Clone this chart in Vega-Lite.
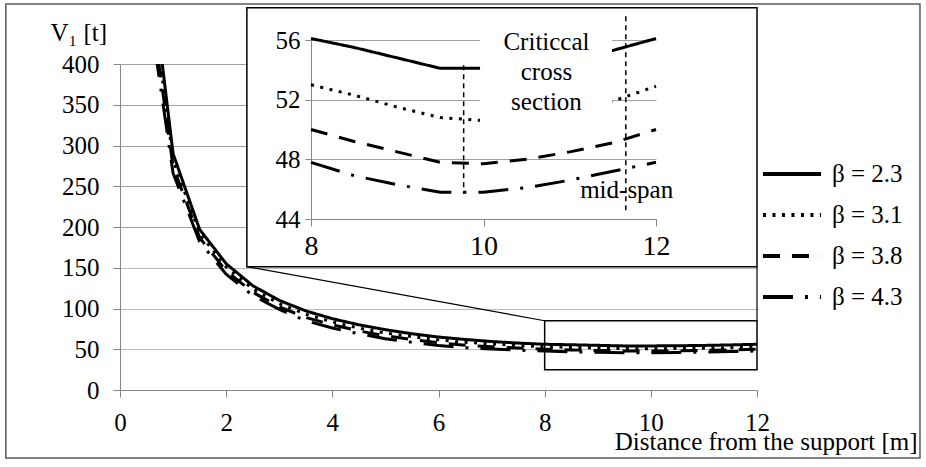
{
  "$schema": "https://vega.github.io/schema/vega-lite/v6.json",
  "width": 637,
  "height": 326,
  "autosize": {"type": "none"},
  "padding": {"left": 120, "top": 64, "right": 169, "bottom": 77},
  "background": "white",
  "config": {
    "font": "Liberation Serif, Times New Roman, DejaVu Serif, serif",
    "view": {"stroke": null},
    "text": {"font": "Liberation Serif, Times New Roman, DejaVu Serif, serif"},
    "axis": {
      "labelFont": "Liberation Serif, Times New Roman, DejaVu Serif, serif",
      "titleFont": "Liberation Serif, Times New Roman, DejaVu Serif, serif",
      "labelColor": "black",
      "titleColor": "black",
      "labelFontSize": 25,
      "titleFontSize": 25,
      "titleFontWeight": "normal",
      "domainColor": "#868686",
      "tickColor": "#868686",
      "gridColor": "#a0a0a0",
      "labelFlush": false,
      "labelOverlap": false
    }
  },
  "datasets": {
    "series": [
      {"x": 0.5, "beta": "β = 2.3", "y": 560}, {"x": 1, "beta": "β = 2.3", "y": 290}, {"x": 1.5, "beta": "β = 2.3", "y": 197}, {"x": 2, "beta": "β = 2.3", "y": 155},
      {"x": 2.5, "beta": "β = 2.3", "y": 128}, {"x": 3, "beta": "β = 2.3", "y": 110}, {"x": 3.5, "beta": "β = 2.3", "y": 97}, {"x": 4, "beta": "β = 2.3", "y": 87.5},
      {"x": 4.5, "beta": "β = 2.3", "y": 80}, {"x": 5, "beta": "β = 2.3", "y": 74}, {"x": 5.5, "beta": "β = 2.3", "y": 69}, {"x": 6, "beta": "β = 2.3", "y": 65},
      {"x": 6.5, "beta": "β = 2.3", "y": 62}, {"x": 7, "beta": "β = 2.3", "y": 59.5}, {"x": 7.5, "beta": "β = 2.3", "y": 57.6}, {"x": 8, "beta": "β = 2.3", "y": 56.1},
      {"x": 8.5, "beta": "β = 2.3", "y": 55.5}, {"x": 9, "beta": "β = 2.3", "y": 54.8}, {"x": 9.5, "beta": "β = 2.3", "y": 54.1}, {"x": 10, "beta": "β = 2.3", "y": 54.1},
      {"x": 10.5, "beta": "β = 2.3", "y": 54.3}, {"x": 11, "beta": "β = 2.3", "y": 54.7}, {"x": 11.5, "beta": "β = 2.3", "y": 55.3}, {"x": 12, "beta": "β = 2.3", "y": 56.1},

      {"x": 0.5, "beta": "β = 3.1", "y": 530}, {"x": 1, "beta": "β = 3.1", "y": 282}, {"x": 1.5, "beta": "β = 3.1", "y": 192}, {"x": 2, "beta": "β = 3.1", "y": 151},
      {"x": 2.5, "beta": "β = 3.1", "y": 124}, {"x": 3, "beta": "β = 3.1", "y": 106}, {"x": 3.5, "beta": "β = 3.1", "y": 93}, {"x": 4, "beta": "β = 3.1", "y": 83.5},
      {"x": 4.5, "beta": "β = 3.1", "y": 76}, {"x": 5, "beta": "β = 3.1", "y": 70}, {"x": 5.5, "beta": "β = 3.1", "y": 65.5}, {"x": 6, "beta": "β = 3.1", "y": 61.5},
      {"x": 6.5, "beta": "β = 3.1", "y": 58.5}, {"x": 7, "beta": "β = 3.1", "y": 56.5}, {"x": 7.5, "beta": "β = 3.1", "y": 54.6}, {"x": 8, "beta": "β = 3.1", "y": 53.0},
      {"x": 8.5, "beta": "β = 3.1", "y": 52.3}, {"x": 9, "beta": "β = 3.1", "y": 51.5}, {"x": 9.5, "beta": "β = 3.1", "y": 50.8}, {"x": 10, "beta": "β = 3.1", "y": 50.6},
      {"x": 10.5, "beta": "β = 3.1", "y": 50.9}, {"x": 11, "beta": "β = 3.1", "y": 51.3}, {"x": 11.5, "beta": "β = 3.1", "y": 51.9}, {"x": 12, "beta": "β = 3.1", "y": 52.9},

      {"x": 0.5, "beta": "β = 3.8", "y": 510}, {"x": 1, "beta": "β = 3.8", "y": 274}, {"x": 1.5, "beta": "β = 3.8", "y": 187}, {"x": 2, "beta": "β = 3.8", "y": 146},
      {"x": 2.5, "beta": "β = 3.8", "y": 120}, {"x": 3, "beta": "β = 3.8", "y": 102}, {"x": 3.5, "beta": "β = 3.8", "y": 89}, {"x": 4, "beta": "β = 3.8", "y": 80},
      {"x": 4.5, "beta": "β = 3.8", "y": 72.5}, {"x": 5, "beta": "β = 3.8", "y": 66.5}, {"x": 5.5, "beta": "β = 3.8", "y": 62}, {"x": 6, "beta": "β = 3.8", "y": 58},
      {"x": 6.5, "beta": "β = 3.8", "y": 55}, {"x": 7, "beta": "β = 3.8", "y": 53}, {"x": 7.5, "beta": "β = 3.8", "y": 51.4}, {"x": 8, "beta": "β = 3.8", "y": 50.0},
      {"x": 8.5, "beta": "β = 3.8", "y": 49.2}, {"x": 9, "beta": "β = 3.8", "y": 48.5}, {"x": 9.5, "beta": "β = 3.8", "y": 47.8}, {"x": 10, "beta": "β = 3.8", "y": 47.7},
      {"x": 10.5, "beta": "β = 3.8", "y": 48.0}, {"x": 11, "beta": "β = 3.8", "y": 48.5}, {"x": 11.5, "beta": "β = 3.8", "y": 49.1}, {"x": 12, "beta": "β = 3.8", "y": 50.0},

      {"x": 0.5, "beta": "β = 4.3", "y": 490}, {"x": 1, "beta": "β = 4.3", "y": 266}, {"x": 1.5, "beta": "β = 4.3", "y": 182}, {"x": 2, "beta": "β = 4.3", "y": 142},
      {"x": 2.5, "beta": "β = 4.3", "y": 116}, {"x": 3, "beta": "β = 4.3", "y": 99}, {"x": 3.5, "beta": "β = 4.3", "y": 85}, {"x": 4, "beta": "β = 4.3", "y": 76},
      {"x": 4.5, "beta": "β = 4.3", "y": 69}, {"x": 5, "beta": "β = 4.3", "y": 63}, {"x": 5.5, "beta": "β = 4.3", "y": 58.5}, {"x": 6, "beta": "β = 4.3", "y": 54.5},
      {"x": 6.5, "beta": "β = 4.3", "y": 52}, {"x": 7, "beta": "β = 4.3", "y": 50.2}, {"x": 7.5, "beta": "β = 4.3", "y": 48.9}, {"x": 8, "beta": "β = 4.3", "y": 47.8},
      {"x": 8.5, "beta": "β = 4.3", "y": 46.9}, {"x": 9, "beta": "β = 4.3", "y": 46.3}, {"x": 9.5, "beta": "β = 4.3", "y": 45.8}, {"x": 10, "beta": "β = 4.3", "y": 45.8},
      {"x": 10.5, "beta": "β = 4.3", "y": 46.1}, {"x": 11, "beta": "β = 4.3", "y": 46.6}, {"x": 11.5, "beta": "β = 4.3", "y": 47.2}, {"x": 12, "beta": "β = 4.3", "y": 47.8}
    ]
  },
  "layer": [
    {
      "encoding": {
        "x": {
          "field": "x", "type": "quantitative",
          "scale": {"domain": [0, 12], "nice": false, "zero": false},
          "axis": {
            "orient": "bottom",
            "values": [0, 2, 4, 6, 8, 10, 12],
            "grid": false,
            "tickSize": 7,
            "labelPadding": 13,
            "title": "Distance from the support [m]",
            "titleX": 797,
            "titleY": 59,
            "titleAlign": "right",
            "titleBaseline": "alphabetic"
          }
        },
        "y": {
          "field": "y", "type": "quantitative",
          "scale": {"domain": [0, 400], "nice": false, "zero": false},
          "axis": {
            "orient": "left",
            "values": [0, 50, 100, 150, 200, 250, 300, 350, 400],
            "grid": true,
            "gridDash": {"condition": {"test": "datum.value >= 200", "value": [127, 700]}, "value": [1, 0]},
            "tickSize": 7,
            "labelPadding": 14,
            "title": "V₁ [t]",
            "titleAngle": 0,
            "titleX": -70,
            "titleY": -24,
            "titleAlign": "left",
            "titleBaseline": "alphabetic"
          }
        }
      },
      "layer": [
        {
          "data": {"name": "series"},
          "mark": {"type": "line", "color": "black", "strokeWidth": 3, "clip": true},
          "encoding": {
            "strokeDash": {
              "field": "beta", "type": "nominal",
              "scale": {"domain": ["β = 2.3", "β = 3.1", "β = 3.8", "β = 4.3"], "range": [[1, 0], [3, 6.5], [17, 12], [30, 12, 3, 12]]},
              "legend": {
                "orient": "none", "legendX": 651.5, "legendY": 89.5, "direction": "vertical",
                "title": null, "symbolType": "M-1.57,0L1.57,0", "symbolSize": 1369, "symbolStrokeWidth": 4,
                "symbolStrokeColor": "black", "symbolFillColor": "transparent", "labelFontSize": 25, "labelColor": "black",
                "labelFont": "Liberation Serif, Times New Roman, DejaVu Serif, serif", "labelOffset": 19.5, "rowPadding": 7, "padding": 0
              }
            }
          }
        },
        {
          "data": {"values": [{"x": 8, "x2": 12, "y": 25, "y2": 85}]},
          "mark": {"type": "rect", "filled": false, "color": "black", "strokeWidth": 1.5},
          "encoding": {"x2": {"field": "x2"}, "y2": {"field": "y2"}}
        },
        {
          "data": {"values": [{"x": 2.39, "y": 151.3, "x2": 8, "y2": 85}, {"x": 12, "y": 151.3, "x2": 12, "y2": 85}]},
          "mark": {"type": "rule", "color": "black", "strokeWidth": 1.2},
          "encoding": {"x2": {"field": "x2"}, "y2": {"field": "y2"}}
        },
        {
          "data": {"values": [{"x": 2.39, "x2": 12, "y": 151.3, "y2": 469}]},
          "mark": {"type": "rect", "filled": false, "color": "black", "strokeWidth": 1.5},
          "encoding": {"x2": {"field": "x2"}, "y2": {"field": "y2"}}
        },
        {
          "data": {"values": [{"x": -2.15, "x2": 15.07, "y": -83.4, "y2": 473.6}]},
          "mark": {"type": "rect", "filled": false, "color": "#595959", "strokeWidth": 1.5},
          "encoding": {"x2": {"field": "x2"}, "y2": {"field": "y2"}}
        }
      ]
    },
    {
      "encoding": {
        "x": {
          "field": "x", "type": "quantitative",
          "scale": {"domain": [8, 12], "range": [191, 536], "nice": false, "zero": false},
          "axis": {
            "orient": "bottom", "offset": -171, "values": [8, 10, 12], "grid": false,
            "title": null, "tickSize": 7, "labelPadding": 6, "labelFontSize": 28
          }
        },
        "y": {
          "field": "y", "type": "quantitative",
          "scale": {"domain": [44, 56], "range": [155, -24], "nice": false, "zero": false},
          "axis": {
            "orient": "left", "offset": -191, "values": [44, 48, 52, 56], "grid": true,
            "title": null, "tickSize": 6, "labelPadding": 5
          }
        }
      },
      "layer": [
        {
          "data": {"name": "series"},
          "transform": [{"filter": "datum.x >= 8"}],
          "mark": {"type": "line", "color": "black", "strokeWidth": 3},
          "encoding": {
            "strokeDash": {
              "field": "beta", "type": "nominal",
              "scale": {"domain": ["β = 2.3", "β = 3.1", "β = 3.8", "β = 4.3"], "range": [[1, 0], [3, 6.5], [17, 12], [30, 12, 3, 12]]},
              "legend": {
                "orient": "none", "legendX": 651.5, "legendY": 89.5, "direction": "vertical",
                "title": null, "symbolType": "M-1.57,0L1.57,0", "symbolSize": 1369, "symbolStrokeWidth": 4,
                "symbolStrokeColor": "black", "symbolFillColor": "transparent", "labelFontSize": 25, "labelColor": "black",
                "labelFont": "Liberation Serif, Times New Roman, DejaVu Serif, serif", "labelOffset": 19.5, "rowPadding": 7, "padding": 0
              }
            }
          }
        },
        {
          "data": {"values": [{"x": 9.96, "x2": 11.49, "y": 50.2, "y2": 56.8}]},
          "mark": {"type": "rect", "color": "white", "opacity": 1},
          "encoding": {"x2": {"field": "x2"}, "y2": {"field": "y2"}}
        },
        {
          "data": {"values": [{"x": 9.77, "y": 54.3, "y2": 45.7}, {"x": 11.65, "y": 57.6, "y2": 44.4}]},
          "mark": {"type": "rule", "color": "black", "strokeWidth": 1.5, "strokeDash": [5, 4]},
          "encoding": {"y2": {"field": "y2"}}
        },
        {
          "data": {"values": [
            {"x": 10.73, "y": 55.33, "label": "Criticcal"},
            {"x": 10.73, "y": 53.32, "label": "cross"},
            {"x": 10.73, "y": 51.31, "label": "section"},
            {"x": 11.66, "y": 45.4, "label": "mid-span"}
          ]},
          "mark": {"type": "text", "fontSize": 25, "color": "black", "align": "center", "baseline": "alphabetic", "font": "Liberation Serif, Times New Roman, DejaVu Serif, serif"},
          "encoding": {"text": {"field": "label"}}
        }
      ]
    }
  ],
  "resolve": {
    "scale": {"x": "independent", "y": "independent"},
    "axis": {"x": "independent", "y": "independent"}
  }
}
